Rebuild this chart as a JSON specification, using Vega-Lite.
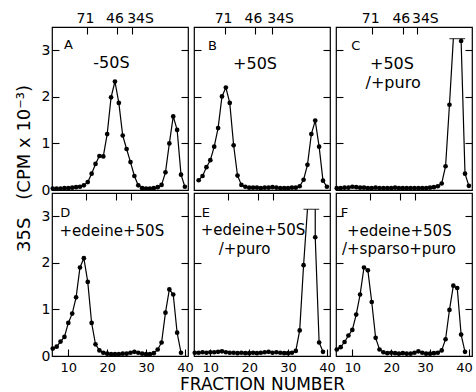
{
"$schema":"https://vega.github.io/schema/vega-lite/v6.json",
"background":"white",
"padding":{"left":14,"top":10,"right":0,"bottom":0},
"bounds":"flush",
"columns":3,
"spacing":{"row":3,"column":6},
"datasets":{
"curves":[
{"panel":"A","fraction":6,"cpm":0.03,"part":1,"kind":"dot"},{"panel":"A","fraction":7,"cpm":0.03,"part":1,"kind":"dot"},{"panel":"A","fraction":8,"cpm":0.03,"part":1,"kind":"dot"},{"panel":"A","fraction":9,"cpm":0.04,"part":1,"kind":"dot"},{"panel":"A","fraction":10,"cpm":0.04,"part":1,"kind":"dot"},{"panel":"A","fraction":11,"cpm":0.05,"part":1,"kind":"dot"},{"panel":"A","fraction":12,"cpm":0.06,"part":1,"kind":"dot"},{"panel":"A","fraction":13,"cpm":0.07,"part":1,"kind":"dot"},{"panel":"A","fraction":14,"cpm":0.1,"part":1,"kind":"dot"},{"panel":"A","fraction":15,"cpm":0.17,"part":1,"kind":"dot"},{"panel":"A","fraction":16,"cpm":0.35,"part":1,"kind":"dot"},{"panel":"A","fraction":17,"cpm":0.56,"part":1,"kind":"dot"},{"panel":"A","fraction":18,"cpm":0.73,"part":1,"kind":"dot"},{"panel":"A","fraction":19,"cpm":0.72,"part":1,"kind":"dot"},{"panel":"A","fraction":20,"cpm":1.2,"part":1,"kind":"dot"},{"panel":"A","fraction":21,"cpm":1.99,"part":1,"kind":"dot"},{"panel":"A","fraction":22,"cpm":2.33,"part":1,"kind":"dot"},{"panel":"A","fraction":23,"cpm":1.87,"part":1,"kind":"dot"},{"panel":"A","fraction":24,"cpm":1.17,"part":1,"kind":"dot"},{"panel":"A","fraction":25,"cpm":0.88,"part":1,"kind":"dot"},{"panel":"A","fraction":26,"cpm":0.6,"part":1,"kind":"dot"},{"panel":"A","fraction":27,"cpm":0.3,"part":1,"kind":"dot"},{"panel":"A","fraction":28,"cpm":0.1,"part":1,"kind":"dot"},{"panel":"A","fraction":29,"cpm":0.04,"part":1,"kind":"dot"},{"panel":"A","fraction":30,"cpm":0.03,"part":1,"kind":"dot"},{"panel":"A","fraction":31,"cpm":0.03,"part":1,"kind":"dot"},{"panel":"A","fraction":32,"cpm":0.04,"part":1,"kind":"dot"},{"panel":"A","fraction":33,"cpm":0.06,"part":1,"kind":"dot"},{"panel":"A","fraction":34,"cpm":0.11,"part":1,"kind":"dot"},{"panel":"A","fraction":35,"cpm":0.38,"part":1,"kind":"dot"},{"panel":"A","fraction":36,"cpm":1.0,"part":1,"kind":"dot"},{"panel":"A","fraction":37,"cpm":1.58,"part":1,"kind":"dot"},{"panel":"A","fraction":38,"cpm":1.29,"part":1,"kind":"dot"},{"panel":"A","fraction":39,"cpm":0.33,"part":1,"kind":"dot"},{"panel":"A","fraction":40,"cpm":0.07,"part":1,"kind":"dot"},
{"panel":"B","fraction":7,"cpm":0.21,"part":1,"kind":"dot"},{"panel":"B","fraction":8,"cpm":0.3,"part":1,"kind":"dot"},{"panel":"B","fraction":9,"cpm":0.49,"part":1,"kind":"dot"},{"panel":"B","fraction":10,"cpm":0.64,"part":1,"kind":"dot"},{"panel":"B","fraction":11,"cpm":0.93,"part":1,"kind":"dot"},{"panel":"B","fraction":12,"cpm":1.33,"part":1,"kind":"dot"},{"panel":"B","fraction":13,"cpm":2.01,"part":1,"kind":"dot"},{"panel":"B","fraction":14,"cpm":2.2,"part":1,"kind":"dot"},{"panel":"B","fraction":15,"cpm":1.87,"part":1,"kind":"dot"},{"panel":"B","fraction":16,"cpm":0.96,"part":1,"kind":"dot"},{"panel":"B","fraction":17,"cpm":0.31,"part":1,"kind":"dot"},{"panel":"B","fraction":18,"cpm":0.11,"part":1,"kind":"dot"},{"panel":"B","fraction":19,"cpm":0.07,"part":1,"kind":"dot"},{"panel":"B","fraction":20,"cpm":0.05,"part":1,"kind":"dot"},{"panel":"B","fraction":21,"cpm":0.05,"part":1,"kind":"dot"},{"panel":"B","fraction":22,"cpm":0.05,"part":1,"kind":"dot"},{"panel":"B","fraction":23,"cpm":0.04,"part":1,"kind":"dot"},{"panel":"B","fraction":24,"cpm":0.05,"part":1,"kind":"dot"},{"panel":"B","fraction":25,"cpm":0.05,"part":1,"kind":"dot"},{"panel":"B","fraction":26,"cpm":0.06,"part":1,"kind":"dot"},{"panel":"B","fraction":27,"cpm":0.05,"part":1,"kind":"dot"},{"panel":"B","fraction":28,"cpm":0.04,"part":1,"kind":"dot"},{"panel":"B","fraction":29,"cpm":0.04,"part":1,"kind":"dot"},{"panel":"B","fraction":30,"cpm":0.04,"part":1,"kind":"dot"},{"panel":"B","fraction":31,"cpm":0.05,"part":1,"kind":"dot"},{"panel":"B","fraction":32,"cpm":0.05,"part":1,"kind":"dot"},{"panel":"B","fraction":33,"cpm":0.08,"part":1,"kind":"dot"},{"panel":"B","fraction":34,"cpm":0.22,"part":1,"kind":"dot"},{"panel":"B","fraction":35,"cpm":0.54,"part":1,"kind":"dot"},{"panel":"B","fraction":36,"cpm":1.2,"part":1,"kind":"dot"},{"panel":"B","fraction":37,"cpm":1.49,"part":1,"kind":"dot"},{"panel":"B","fraction":38,"cpm":0.93,"part":1,"kind":"dot"},{"panel":"B","fraction":39,"cpm":0.2,"part":1,"kind":"dot"},{"panel":"B","fraction":40,"cpm":0.07,"part":1,"kind":"dot"},
{"panel":"C","fraction":6,"cpm":0.04,"part":1,"kind":"dot"},{"panel":"C","fraction":7,"cpm":0.04,"part":1,"kind":"dot"},{"panel":"C","fraction":8,"cpm":0.05,"part":1,"kind":"dot"},{"panel":"C","fraction":9,"cpm":0.05,"part":1,"kind":"dot"},{"panel":"C","fraction":10,"cpm":0.07,"part":1,"kind":"dot"},{"panel":"C","fraction":11,"cpm":0.06,"part":1,"kind":"dot"},{"panel":"C","fraction":12,"cpm":0.05,"part":1,"kind":"dot"},{"panel":"C","fraction":13,"cpm":0.05,"part":1,"kind":"dot"},{"panel":"C","fraction":14,"cpm":0.04,"part":1,"kind":"dot"},{"panel":"C","fraction":15,"cpm":0.04,"part":1,"kind":"dot"},{"panel":"C","fraction":16,"cpm":0.05,"part":1,"kind":"dot"},{"panel":"C","fraction":17,"cpm":0.04,"part":1,"kind":"dot"},{"panel":"C","fraction":18,"cpm":0.04,"part":1,"kind":"dot"},{"panel":"C","fraction":19,"cpm":0.04,"part":1,"kind":"dot"},{"panel":"C","fraction":20,"cpm":0.04,"part":1,"kind":"dot"},{"panel":"C","fraction":21,"cpm":0.05,"part":1,"kind":"dot"},{"panel":"C","fraction":22,"cpm":0.04,"part":1,"kind":"dot"},{"panel":"C","fraction":23,"cpm":0.04,"part":1,"kind":"dot"},{"panel":"C","fraction":24,"cpm":0.04,"part":1,"kind":"dot"},{"panel":"C","fraction":25,"cpm":0.04,"part":1,"kind":"dot"},{"panel":"C","fraction":26,"cpm":0.04,"part":1,"kind":"dot"},{"panel":"C","fraction":27,"cpm":0.04,"part":1,"kind":"dot"},{"panel":"C","fraction":28,"cpm":0.04,"part":1,"kind":"dot"},{"panel":"C","fraction":29,"cpm":0.04,"part":1,"kind":"dot"},{"panel":"C","fraction":30,"cpm":0.05,"part":1,"kind":"dot"},{"panel":"C","fraction":31,"cpm":0.06,"part":1,"kind":"dot"},{"panel":"C","fraction":32,"cpm":0.08,"part":1,"kind":"dot"},{"panel":"C","fraction":33,"cpm":0.14,"part":1,"kind":"dot"},{"panel":"C","fraction":34,"cpm":0.51,"part":1,"kind":"dot"},{"panel":"C","fraction":35,"cpm":1.83,"part":1,"kind":"dot"},{"panel":"C","fraction":36,"cpm":3.25,"part":1,"kind":"cap"},{"panel":"C","fraction":38,"cpm":3.25,"part":2,"kind":"cap"},{"panel":"C","fraction":38,"cpm":3.2,"part":2,"kind":"dot"},{"panel":"C","fraction":39,"cpm":0.35,"part":2,"kind":"dot"},{"panel":"C","fraction":40,"cpm":0.09,"part":2,"kind":"dot"},
{"panel":"D","fraction":6,"cpm":0.16,"part":1,"kind":"dot"},{"panel":"D","fraction":7,"cpm":0.2,"part":1,"kind":"dot"},{"panel":"D","fraction":8,"cpm":0.31,"part":1,"kind":"dot"},{"panel":"D","fraction":9,"cpm":0.41,"part":1,"kind":"dot"},{"panel":"D","fraction":10,"cpm":0.71,"part":1,"kind":"dot"},{"panel":"D","fraction":11,"cpm":0.91,"part":1,"kind":"dot"},{"panel":"D","fraction":12,"cpm":1.26,"part":1,"kind":"dot"},{"panel":"D","fraction":13,"cpm":1.9,"part":1,"kind":"dot"},{"panel":"D","fraction":14,"cpm":2.1,"part":1,"kind":"dot"},{"panel":"D","fraction":15,"cpm":1.59,"part":1,"kind":"dot"},{"panel":"D","fraction":16,"cpm":0.71,"part":1,"kind":"dot"},{"panel":"D","fraction":17,"cpm":0.25,"part":1,"kind":"dot"},{"panel":"D","fraction":18,"cpm":0.12,"part":1,"kind":"dot"},{"panel":"D","fraction":19,"cpm":0.07,"part":1,"kind":"dot"},{"panel":"D","fraction":20,"cpm":0.05,"part":1,"kind":"dot"},{"panel":"D","fraction":21,"cpm":0.04,"part":1,"kind":"dot"},{"panel":"D","fraction":22,"cpm":0.04,"part":1,"kind":"dot"},{"panel":"D","fraction":23,"cpm":0.04,"part":1,"kind":"dot"},{"panel":"D","fraction":24,"cpm":0.05,"part":1,"kind":"dot"},{"panel":"D","fraction":25,"cpm":0.05,"part":1,"kind":"dot"},{"panel":"D","fraction":26,"cpm":0.07,"part":1,"kind":"dot"},{"panel":"D","fraction":27,"cpm":0.09,"part":1,"kind":"dot"},{"panel":"D","fraction":28,"cpm":0.07,"part":1,"kind":"dot"},{"panel":"D","fraction":29,"cpm":0.05,"part":1,"kind":"dot"},{"panel":"D","fraction":30,"cpm":0.04,"part":1,"kind":"dot"},{"panel":"D","fraction":31,"cpm":0.04,"part":1,"kind":"dot"},{"panel":"D","fraction":32,"cpm":0.06,"part":1,"kind":"dot"},{"panel":"D","fraction":33,"cpm":0.14,"part":1,"kind":"dot"},{"panel":"D","fraction":34,"cpm":0.29,"part":1,"kind":"dot"},{"panel":"D","fraction":35,"cpm":0.93,"part":1,"kind":"dot"},{"panel":"D","fraction":36,"cpm":1.43,"part":1,"kind":"dot"},{"panel":"D","fraction":37,"cpm":1.32,"part":1,"kind":"dot"},{"panel":"D","fraction":38,"cpm":0.5,"part":1,"kind":"dot"},{"panel":"D","fraction":39,"cpm":0.07,"part":1,"kind":"dot"},
{"panel":"E","fraction":6,"cpm":0.07,"part":1,"kind":"dot"},{"panel":"E","fraction":7,"cpm":0.07,"part":1,"kind":"dot"},{"panel":"E","fraction":8,"cpm":0.08,"part":1,"kind":"dot"},{"panel":"E","fraction":9,"cpm":0.07,"part":1,"kind":"dot"},{"panel":"E","fraction":10,"cpm":0.08,"part":1,"kind":"dot"},{"panel":"E","fraction":11,"cpm":0.08,"part":1,"kind":"dot"},{"panel":"E","fraction":12,"cpm":0.09,"part":1,"kind":"dot"},{"panel":"E","fraction":13,"cpm":0.1,"part":1,"kind":"dot"},{"panel":"E","fraction":14,"cpm":0.08,"part":1,"kind":"dot"},{"panel":"E","fraction":15,"cpm":0.07,"part":1,"kind":"dot"},{"panel":"E","fraction":16,"cpm":0.07,"part":1,"kind":"dot"},{"panel":"E","fraction":17,"cpm":0.06,"part":1,"kind":"dot"},{"panel":"E","fraction":18,"cpm":0.07,"part":1,"kind":"dot"},{"panel":"E","fraction":19,"cpm":0.06,"part":1,"kind":"dot"},{"panel":"E","fraction":20,"cpm":0.06,"part":1,"kind":"dot"},{"panel":"E","fraction":21,"cpm":0.07,"part":1,"kind":"dot"},{"panel":"E","fraction":22,"cpm":0.06,"part":1,"kind":"dot"},{"panel":"E","fraction":23,"cpm":0.07,"part":1,"kind":"dot"},{"panel":"E","fraction":24,"cpm":0.08,"part":1,"kind":"dot"},{"panel":"E","fraction":25,"cpm":0.09,"part":1,"kind":"dot"},{"panel":"E","fraction":26,"cpm":0.07,"part":1,"kind":"dot"},{"panel":"E","fraction":27,"cpm":0.08,"part":1,"kind":"dot"},{"panel":"E","fraction":28,"cpm":0.07,"part":1,"kind":"dot"},{"panel":"E","fraction":29,"cpm":0.06,"part":1,"kind":"dot"},{"panel":"E","fraction":30,"cpm":0.06,"part":1,"kind":"dot"},{"panel":"E","fraction":31,"cpm":0.07,"part":1,"kind":"dot"},{"panel":"E","fraction":32,"cpm":0.11,"part":1,"kind":"dot"},{"panel":"E","fraction":33,"cpm":0.55,"part":1,"kind":"dot"},{"panel":"E","fraction":34,"cpm":1.95,"part":1,"kind":"dot"},{"panel":"E","fraction":35,"cpm":3.15,"part":1,"kind":"cap"},{"panel":"E","fraction":37,"cpm":3.15,"part":2,"kind":"cap"},{"panel":"E","fraction":37,"cpm":2.55,"part":2,"kind":"dot"},{"panel":"E","fraction":38,"cpm":0.29,"part":2,"kind":"dot"},{"panel":"E","fraction":39,"cpm":0.09,"part":2,"kind":"dot"},
{"panel":"F","fraction":6,"cpm":0.14,"part":1,"kind":"dot"},{"panel":"F","fraction":7,"cpm":0.19,"part":1,"kind":"dot"},{"panel":"F","fraction":8,"cpm":0.3,"part":1,"kind":"dot"},{"panel":"F","fraction":9,"cpm":0.44,"part":1,"kind":"dot"},{"panel":"F","fraction":10,"cpm":0.56,"part":1,"kind":"dot"},{"panel":"F","fraction":11,"cpm":0.89,"part":1,"kind":"dot"},{"panel":"F","fraction":12,"cpm":1.32,"part":1,"kind":"dot"},{"panel":"F","fraction":13,"cpm":1.9,"part":1,"kind":"dot"},{"panel":"F","fraction":14,"cpm":1.84,"part":1,"kind":"dot"},{"panel":"F","fraction":15,"cpm":1.16,"part":1,"kind":"dot"},{"panel":"F","fraction":16,"cpm":0.39,"part":1,"kind":"dot"},{"panel":"F","fraction":17,"cpm":0.14,"part":1,"kind":"dot"},{"panel":"F","fraction":18,"cpm":0.08,"part":1,"kind":"dot"},{"panel":"F","fraction":19,"cpm":0.06,"part":1,"kind":"dot"},{"panel":"F","fraction":20,"cpm":0.07,"part":1,"kind":"dot"},{"panel":"F","fraction":21,"cpm":0.06,"part":1,"kind":"dot"},{"panel":"F","fraction":22,"cpm":0.05,"part":1,"kind":"dot"},{"panel":"F","fraction":23,"cpm":0.06,"part":1,"kind":"dot"},{"panel":"F","fraction":24,"cpm":0.05,"part":1,"kind":"dot"},{"panel":"F","fraction":25,"cpm":0.05,"part":1,"kind":"dot"},{"panel":"F","fraction":26,"cpm":0.07,"part":1,"kind":"dot"},{"panel":"F","fraction":27,"cpm":0.1,"part":1,"kind":"dot"},{"panel":"F","fraction":28,"cpm":0.07,"part":1,"kind":"dot"},{"panel":"F","fraction":29,"cpm":0.05,"part":1,"kind":"dot"},{"panel":"F","fraction":30,"cpm":0.05,"part":1,"kind":"dot"},{"panel":"F","fraction":31,"cpm":0.06,"part":1,"kind":"dot"},{"panel":"F","fraction":32,"cpm":0.07,"part":1,"kind":"dot"},{"panel":"F","fraction":33,"cpm":0.12,"part":1,"kind":"dot"},{"panel":"F","fraction":34,"cpm":0.36,"part":1,"kind":"dot"},{"panel":"F","fraction":35,"cpm":0.99,"part":1,"kind":"dot"},{"panel":"F","fraction":36,"cpm":1.51,"part":1,"kind":"dot"},{"panel":"F","fraction":37,"cpm":1.46,"part":1,"kind":"dot"},{"panel":"F","fraction":38,"cpm":0.46,"part":1,"kind":"dot"},{"panel":"F","fraction":39,"cpm":0.09,"part":1,"kind":"dot"}
],
"notes":[
{"panel":"A","fraction":8.9,"cpm":3.03,"label":"A","role":"letter"},
{"panel":"A","fraction":21.1,"cpm":2.61,"label":"-50S","role":"note"},
{"panel":"B","fraction":9.4,"cpm":3.0,"label":"B","role":"letter"},
{"panel":"B","fraction":21.5,"cpm":2.6,"label":"+50S","role":"note"},
{"panel":"C","fraction":9.7,"cpm":3.0,"label":"C","role":"letter"},
{"panel":"C","fraction":20.2,"cpm":2.6,"label":"+50S","role":"note"},
{"panel":"C","fraction":20.5,"cpm":2.2,"label":"/+puro","role":"note"},
{"panel":"D","fraction":7.9,"cpm":2.98,"label":"D","role":"letter"},
{"panel":"D","fraction":21.2,"cpm":2.58,"label":"+edeine+50S","role":"note"},
{"panel":"E","fraction":7.8,"cpm":2.98,"label":"E","role":"letter"},
{"panel":"E","fraction":21.0,"cpm":2.6,"label":"+edeine+50S","role":"note"},
{"panel":"E","fraction":18.8,"cpm":2.2,"label":"/+puro","role":"note"},
{"panel":"F","fraction":7.0,"cpm":2.98,"label":"F","role":"letter"},
{"panel":"F","fraction":22.1,"cpm":2.58,"label":"+edeine+50S","role":"note"},
{"panel":"F","fraction":22.0,"cpm":2.19,"label":"/+sparso+puro","role":"note"}
]
},
"concat":[
{"width":136,"height":163,"resolve":{"axis":{"x":"independent","y":"independent"}},"layer":[
{"data":{"name":"curves"},"transform":[{"filter":"datum.panel==='A'"}],"mark":{"type":"line","color":"black","strokeWidth":1.2},"encoding":{"x":{"field":"fraction","type":"quantitative","scale":{"domain":[5.8,40.8],"nice":false,"zero":false},"axis":null},"y":{"field":"cpm","type":"quantitative","scale":{"domain":[0,3.5],"nice":false},"axis":{"orient":"left","values":[0,1,2,3],"title":"35S\u2003(CPM x 10⁻³)","titleX":-28,"titleY":141,"titleAngle":270,"titleAlign":"center","titleBaseline":"middle","titleFontSize":18}},"detail":{"field":"part"}}},
{"data":{"name":"curves"},"transform":[{"filter":"datum.panel==='A' && datum.kind==='dot'"}],"mark":{"type":"point","filled":true,"color":"black","size":22,"opacity":1},"encoding":{"x":{"field":"fraction","type":"quantitative","scale":{"domain":[5.8,40.8],"nice":false,"zero":false},"axis":{"orient":"top","values":[14.8,22.4,26.4],"title":null,"labelExpr":"datum.value < 18 ? '71' : datum.value < 24 ? '46' : '34S'","labelOffset":{"condition":{"test":"datum.value > 25","value":8},"value":-2}}},"y":{"field":"cpm","type":"quantitative","scale":{"domain":[0,3.5],"nice":false},"axis":{"orient":"right","values":[1,2,3],"labels":false,"title":null}}}},
{"data":{"name":"curves"},"transform":[{"filter":"datum.panel==='A' && datum.kind==='cap'"}],"mark":{"type":"tick","orient":"horizontal","size":8,"thickness":1.2,"color":"black"},"encoding":{"x":{"field":"fraction","type":"quantitative","axis":null},"y":{"field":"cpm","type":"quantitative","axis":null}}},
{"data":{"name":"notes"},"transform":[{"filter":"datum.panel==='A' && datum.role==='letter'"}],"mark":{"type":"text","align":"left","baseline":"alphabetic","fontSize":13},"encoding":{"x":{"field":"fraction","type":"quantitative","axis":null},"y":{"field":"cpm","type":"quantitative","axis":null},"text":{"field":"label"}}},
{"data":{"name":"notes"},"transform":[{"filter":"datum.panel==='A' && datum.role==='note'"}],"mark":{"type":"text","align":"center","baseline":"alphabetic","fontSize":16},"encoding":{"x":{"field":"fraction","type":"quantitative","axis":null},"y":{"field":"cpm","type":"quantitative","axis":null},"text":{"field":"label"}}}
]},
{"width":136,"height":163,"resolve":{"axis":{"x":"independent","y":"independent"}},"layer":[
{"data":{"name":"curves"},"transform":[{"filter":"datum.panel==='B'"}],"mark":{"type":"line","color":"black","strokeWidth":1.2},"encoding":{"x":{"field":"fraction","type":"quantitative","scale":{"domain":[5.8,40.8],"nice":false,"zero":false},"axis":null},"y":{"field":"cpm","type":"quantitative","scale":{"domain":[0,3.5],"nice":false},"axis":{"orient":"left","values":[1,2,3],"labels":false,"title":null}},"detail":{"field":"part"}}},
{"data":{"name":"curves"},"transform":[{"filter":"datum.panel==='B' && datum.kind==='dot'"}],"mark":{"type":"point","filled":true,"color":"black","size":22,"opacity":1},"encoding":{"x":{"field":"fraction","type":"quantitative","scale":{"domain":[5.8,40.8],"nice":false,"zero":false},"axis":{"orient":"top","values":[13.8,21.5,25.9],"title":null,"labelExpr":"datum.value < 18 ? '71' : datum.value < 24 ? '46' : '34S'","labelOffset":{"condition":{"test":"datum.value > 25","value":8},"value":-2}}},"y":{"field":"cpm","type":"quantitative","scale":{"domain":[0,3.5],"nice":false},"axis":{"orient":"right","values":[1,2,3],"labels":false,"title":null}}}},
{"data":{"name":"curves"},"transform":[{"filter":"datum.panel==='B' && datum.kind==='cap'"}],"mark":{"type":"tick","orient":"horizontal","size":8,"thickness":1.2,"color":"black"},"encoding":{"x":{"field":"fraction","type":"quantitative","axis":null},"y":{"field":"cpm","type":"quantitative","axis":null}}},
{"data":{"name":"notes"},"transform":[{"filter":"datum.panel==='B' && datum.role==='letter'"}],"mark":{"type":"text","align":"left","baseline":"alphabetic","fontSize":13},"encoding":{"x":{"field":"fraction","type":"quantitative","axis":null},"y":{"field":"cpm","type":"quantitative","axis":null},"text":{"field":"label"}}},
{"data":{"name":"notes"},"transform":[{"filter":"datum.panel==='B' && datum.role==='note'"}],"mark":{"type":"text","align":"center","baseline":"alphabetic","fontSize":16},"encoding":{"x":{"field":"fraction","type":"quantitative","axis":null},"y":{"field":"cpm","type":"quantitative","axis":null},"text":{"field":"label"}}}
]},
{"width":136,"height":163,"resolve":{"axis":{"x":"independent","y":"independent"}},"layer":[
{"data":{"name":"curves"},"transform":[{"filter":"datum.panel==='C'"}],"mark":{"type":"line","color":"black","strokeWidth":1.2},"encoding":{"x":{"field":"fraction","type":"quantitative","scale":{"domain":[5.8,40.8],"nice":false,"zero":false},"axis":null},"y":{"field":"cpm","type":"quantitative","scale":{"domain":[0,3.5],"nice":false},"axis":{"orient":"left","values":[1,2,3],"labels":false,"title":null}},"detail":{"field":"part"}}},
{"data":{"name":"curves"},"transform":[{"filter":"datum.panel==='C' && datum.kind==='dot'"}],"mark":{"type":"point","filled":true,"color":"black","size":22,"opacity":1},"encoding":{"x":{"field":"fraction","type":"quantitative","scale":{"domain":[5.8,40.8],"nice":false,"zero":false},"axis":{"orient":"top","values":[15.1,23.0,26.6],"title":null,"labelExpr":"datum.value < 18 ? '71' : datum.value < 24 ? '46' : '34S'","labelOffset":{"condition":{"test":"datum.value > 25","value":8},"value":-2}}},"y":{"field":"cpm","type":"quantitative","scale":{"domain":[0,3.5],"nice":false},"axis":{"orient":"right","values":[1,2,3],"labels":false,"title":null}}}},
{"data":{"name":"curves"},"transform":[{"filter":"datum.panel==='C' && datum.kind==='cap'"}],"mark":{"type":"tick","orient":"horizontal","size":8,"thickness":1.2,"color":"black"},"encoding":{"x":{"field":"fraction","type":"quantitative","axis":null},"y":{"field":"cpm","type":"quantitative","axis":null}}},
{"data":{"name":"notes"},"transform":[{"filter":"datum.panel==='C' && datum.role==='letter'"}],"mark":{"type":"text","align":"left","baseline":"alphabetic","fontSize":13},"encoding":{"x":{"field":"fraction","type":"quantitative","axis":null},"y":{"field":"cpm","type":"quantitative","axis":null},"text":{"field":"label"}}},
{"data":{"name":"notes"},"transform":[{"filter":"datum.panel==='C' && datum.role==='note'"}],"mark":{"type":"text","align":"center","baseline":"alphabetic","fontSize":16},"encoding":{"x":{"field":"fraction","type":"quantitative","axis":null},"y":{"field":"cpm","type":"quantitative","axis":null},"text":{"field":"label"}}}
]},
{"width":136,"height":163,"resolve":{"axis":{"x":"independent","y":"independent"}},"layer":[
{"data":{"name":"curves"},"transform":[{"filter":"datum.panel==='D'"}],"mark":{"type":"line","color":"black","strokeWidth":1.2},"encoding":{"x":{"field":"fraction","type":"quantitative","scale":{"domain":[5.8,40.8],"nice":false,"zero":false},"axis":{"orient":"bottom","values":[10,20,30,40],"title":null}},"y":{"field":"cpm","type":"quantitative","scale":{"domain":[0,3.5],"nice":false},"axis":{"orient":"left","values":[0,1,2,3],"title":null}},"detail":{"field":"part"}}},
{"data":{"name":"curves"},"transform":[{"filter":"datum.panel==='D' && datum.kind==='dot'"}],"mark":{"type":"point","filled":true,"color":"black","size":22,"opacity":1},"encoding":{"x":{"field":"fraction","type":"quantitative","scale":{"domain":[5.8,40.8],"nice":false,"zero":false},"axis":{"orient":"top","values":[14.5,22.3,26.2],"labels":false,"title":null}},"y":{"field":"cpm","type":"quantitative","scale":{"domain":[0,3.5],"nice":false},"axis":{"orient":"right","values":[1,2,3],"labels":false,"title":null}}}},
{"data":{"name":"curves"},"transform":[{"filter":"datum.panel==='D' && datum.kind==='cap'"}],"mark":{"type":"tick","orient":"horizontal","size":8,"thickness":1.2,"color":"black"},"encoding":{"x":{"field":"fraction","type":"quantitative","axis":null},"y":{"field":"cpm","type":"quantitative","axis":null}}},
{"data":{"name":"notes"},"transform":[{"filter":"datum.panel==='D' && datum.role==='letter'"}],"mark":{"type":"text","align":"left","baseline":"alphabetic","fontSize":13},"encoding":{"x":{"field":"fraction","type":"quantitative","axis":null},"y":{"field":"cpm","type":"quantitative","axis":null},"text":{"field":"label"}}},
{"data":{"name":"notes"},"transform":[{"filter":"datum.panel==='D' && datum.role==='note'"}],"mark":{"type":"text","align":"center","baseline":"alphabetic","fontSize":15},"encoding":{"x":{"field":"fraction","type":"quantitative","axis":null},"y":{"field":"cpm","type":"quantitative","axis":null},"text":{"field":"label"}}}
]},
{"width":136,"height":163,"resolve":{"axis":{"x":"independent","y":"independent"}},"layer":[
{"data":{"name":"curves"},"transform":[{"filter":"datum.panel==='E'"}],"mark":{"type":"line","color":"black","strokeWidth":1.2},"encoding":{"x":{"field":"fraction","type":"quantitative","scale":{"domain":[5.8,40.8],"nice":false,"zero":false},"axis":{"orient":"bottom","values":[10,20,30,40],"title":"FRACTION NUMBER","titleY":33,"titleBaseline":"alphabetic"}},"y":{"field":"cpm","type":"quantitative","scale":{"domain":[0,3.5],"nice":false},"axis":{"orient":"left","values":[1,2,3],"labels":false,"title":null}},"detail":{"field":"part"}}},
{"data":{"name":"curves"},"transform":[{"filter":"datum.panel==='E' && datum.kind==='dot'"}],"mark":{"type":"point","filled":true,"color":"black","size":22,"opacity":1},"encoding":{"x":{"field":"fraction","type":"quantitative","scale":{"domain":[5.8,40.8],"nice":false,"zero":false},"axis":{"orient":"top","values":[14.5,22.3,26.2],"labels":false,"title":null}},"y":{"field":"cpm","type":"quantitative","scale":{"domain":[0,3.5],"nice":false},"axis":{"orient":"right","values":[1,2,3],"labels":false,"title":null}}}},
{"data":{"name":"curves"},"transform":[{"filter":"datum.panel==='E' && datum.kind==='cap'"}],"mark":{"type":"tick","orient":"horizontal","size":8,"thickness":1.2,"color":"black"},"encoding":{"x":{"field":"fraction","type":"quantitative","axis":null},"y":{"field":"cpm","type":"quantitative","axis":null}}},
{"data":{"name":"notes"},"transform":[{"filter":"datum.panel==='E' && datum.role==='letter'"}],"mark":{"type":"text","align":"left","baseline":"alphabetic","fontSize":13},"encoding":{"x":{"field":"fraction","type":"quantitative","axis":null},"y":{"field":"cpm","type":"quantitative","axis":null},"text":{"field":"label"}}},
{"data":{"name":"notes"},"transform":[{"filter":"datum.panel==='E' && datum.role==='note'"}],"mark":{"type":"text","align":"center","baseline":"alphabetic","fontSize":15},"encoding":{"x":{"field":"fraction","type":"quantitative","axis":null},"y":{"field":"cpm","type":"quantitative","axis":null},"text":{"field":"label"}}}
]},
{"width":136,"height":163,"resolve":{"axis":{"x":"independent","y":"independent"}},"layer":[
{"data":{"name":"curves"},"transform":[{"filter":"datum.panel==='F'"}],"mark":{"type":"line","color":"black","strokeWidth":1.2},"encoding":{"x":{"field":"fraction","type":"quantitative","scale":{"domain":[5.8,40.8],"nice":false,"zero":false},"axis":{"orient":"bottom","values":[10,20,30,40],"title":null,"labelOffset":{"condition":{"test":"datum.value >= 30","value":-5},"value":0}}},"y":{"field":"cpm","type":"quantitative","scale":{"domain":[0,3.5],"nice":false},"axis":{"orient":"left","values":[1,2,3],"labels":false,"title":null}},"detail":{"field":"part"}}},
{"data":{"name":"curves"},"transform":[{"filter":"datum.panel==='F' && datum.kind==='dot'"}],"mark":{"type":"point","filled":true,"color":"black","size":22,"opacity":1},"encoding":{"x":{"field":"fraction","type":"quantitative","scale":{"domain":[5.8,40.8],"nice":false,"zero":false},"axis":{"orient":"top","values":[14.5,22.3,26.2],"labels":false,"title":null}},"y":{"field":"cpm","type":"quantitative","scale":{"domain":[0,3.5],"nice":false},"axis":{"orient":"right","values":[1,2,3],"labels":false,"title":null}}}},
{"data":{"name":"curves"},"transform":[{"filter":"datum.panel==='F' && datum.kind==='cap'"}],"mark":{"type":"tick","orient":"horizontal","size":8,"thickness":1.2,"color":"black"},"encoding":{"x":{"field":"fraction","type":"quantitative","axis":null},"y":{"field":"cpm","type":"quantitative","axis":null}}},
{"data":{"name":"notes"},"transform":[{"filter":"datum.panel==='F' && datum.role==='letter'"}],"mark":{"type":"text","align":"left","baseline":"alphabetic","fontSize":13},"encoding":{"x":{"field":"fraction","type":"quantitative","axis":null},"y":{"field":"cpm","type":"quantitative","axis":null},"text":{"field":"label"}}},
{"data":{"name":"notes"},"transform":[{"filter":"datum.panel==='F' && datum.role==='note'"}],"mark":{"type":"text","align":"center","baseline":"alphabetic","fontSize":15},"encoding":{"x":{"field":"fraction","type":"quantitative","axis":null},"y":{"field":"cpm","type":"quantitative","axis":null},"text":{"field":"label"}}}
]}
],
"config":{
"view":{"stroke":"black","strokeWidth":1.2},
"font":"DejaVu Sans",
"axis":{"domain":false,"grid":false,"tickColor":"black","tickSize":-7,"tickWidth":1.1,"labelColor":"black","labelFont":"DejaVu Sans","labelFontSize":14,"labelPadding":9,"labelFlush":false,"labelOverlap":false,"titleColor":"black","titleFont":"DejaVu Sans","titleFontSize":17,"titleFontWeight":"normal"},
"axisBottom":{"labelPadding":12,"labelFontSize":13},
"text":{"font":"DejaVu Sans","color":"black"}
}
}
